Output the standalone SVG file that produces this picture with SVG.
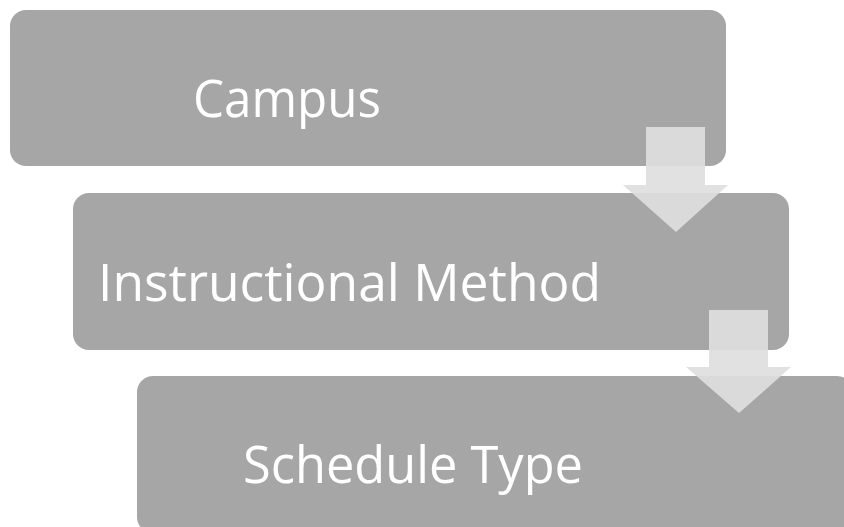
<svg xmlns="http://www.w3.org/2000/svg" width="844" height="527" viewBox="0 0 844 527">
<style>
.box{fill:#a6a6a6;}
.lbl{fill:#ffffff;font-family:"Open Sans","Liberation Sans",sans-serif;font-size:51px;text-anchor:middle;}
.arr{fill:#dedede;fill-opacity:0.92;}
</style>
<rect width="844" height="527" fill="#ffffff"/>
<g id="node-campus">
<rect class="box" x="10" y="10" width="716" height="156" rx="16"/>
<text class="lbl" x="287" y="117" textLength="188" lengthAdjust="spacingAndGlyphs">Campus</text>
</g>
<g id="node-instructional">
<rect class="box" x="73" y="193" width="716" height="157" rx="16"/>
<text class="lbl" x="349.5" y="301" textLength="503" lengthAdjust="spacingAndGlyphs">Instructional Method</text>
</g>
<g id="node-schedule">
<rect class="box" x="137" y="376" width="716" height="157" rx="16"/>
<text class="lbl" x="413" y="483" textLength="340" lengthAdjust="spacingAndGlyphs">Schedule Type</text>
</g>
<g id="connectors">
<polygon class="arr" points="646,127 705,127 705,185 728,185 676,232 623,185 646,185"/>
<polygon class="arr" points="709,310 768,310 768,367 791,367 739,413 686,367 709,367"/>
</g>
</svg>
